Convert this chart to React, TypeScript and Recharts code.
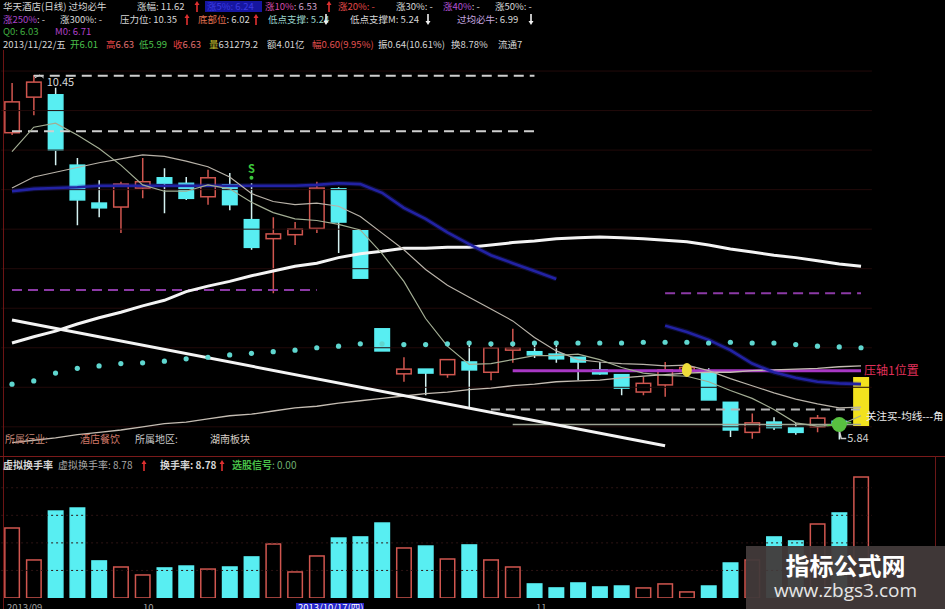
import React from "react";
import { Bar, ComposedChart, Line, ReferenceDot, ReferenceLine, XAxis, YAxis } from "recharts";

// 华天酒店 daily bars, 2013-09-23 .. 2013-11-22
const dates = [
  "2013/09/23", "2013/09/24", "2013/09/25", "2013/09/26", "2013/09/27", "2013/09/30",
  "2013/10/08", "2013/10/09", "2013/10/10", "2013/10/11", "2013/10/14", "2013/10/15",
  "2013/10/16", "2013/10/17", "2013/10/18", "2013/10/21", "2013/10/22", "2013/10/23",
  "2013/10/24", "2013/10/25", "2013/10/28", "2013/10/29", "2013/10/30", "2013/10/31",
  "2013/11/01", "2013/11/04", "2013/11/05", "2013/11/06", "2013/11/07", "2013/11/08",
  "2013/11/11", "2013/11/12", "2013/11/13", "2013/11/14", "2013/11/15", "2013/11/18",
  "2013/11/19", "2013/11/20", "2013/11/21", "2013/11/22",
];

const openPx = [9.72, 10.17, 10.2, 9.31, 8.83, 8.78, 9.02, 9.15, 9.08, 8.91, 9.06, 8.62, 8.38, 8.43, 8.51, 9.01, 8.48, 7.24, 6.67, 6.73, 6.66, 6.82, 6.69, 6.97, 6.95, 6.92, 6.88, 6.72, 6.66, 6.44, 6.53, 6.7, 6.69, 6.31, 5.93, 6.06, 5.99, 6.0, 6.07, 6.01];
const highPx = [10.35, 10.45, 10.29, 9.4, 9.12, 9.1, 9.4, 9.27, 9.16, 9.25, 9.21, 9.08, 8.65, 8.59, 9.1, 9.03, 8.48, 7.24, 6.88, 6.73, 6.85, 7.06, 7.06, 7.24, 7.07, 7.07, 6.88, 6.82, 6.66, 6.63, 6.82, 6.8, 6.74, 6.31, 6.17, 6.12, 6.05, 6.15, 6.1, 6.63];
const lowPx = [9.69, 9.94, 9.31, 8.55, 8.65, 8.45, 8.89, 8.7, 8.87, 8.81, 8.74, 8.24, 7.69, 8.3, 8.45, 8.2, 7.88, 6.96, 6.57, 6.4, 6.62, 6.24, 6.59, 6.81, 6.87, 6.81, 6.59, 6.66, 6.4, 6.4, 6.38, 6.66, 6.34, 5.87, 5.85, 5.96, 5.9, 5.93, 5.84, 5.99];
const closePx = [10.11, 10.36, 9.5, 8.87, 8.77, 9.07, 9.1, 9.08, 8.89, 9.15, 8.81, 8.27, 8.44, 8.5, 9.02, 8.59, 7.88, 6.96, 6.73, 6.68, 6.85, 6.72, 7.0, 7.0, 6.91, 6.86, 6.82, 6.67, 6.49, 6.55, 6.72, 6.75, 6.34, 5.96, 6.05, 5.99, 5.93, 6.11, 6.03, 6.63];

// moving averages and indicator lines
const ma5 = [9.48, 9.79, 9.84, 9.69, 9.52, 9.31, 9.06, 8.98, 8.98, 9.06, 9.01, 8.84, 8.71, 8.63, 8.61, 8.56, 8.49, 8.19, 7.84, 7.37, 7.02, 6.79, 6.8, 6.85, 6.9, 6.9, 6.92, 6.85, 6.75, 6.68, 6.65, 6.64, 6.57, 6.46, 6.36, 6.22, 6.05, 6.01, 6.02, 6.14];
const ma10 = [9.02, 9.16, 9.22, 9.28, 9.34, 9.39, 9.44, 9.42, 9.36, 9.29, 9.16, 8.95, 8.85, 8.81, 8.83, 8.79, 8.66, 8.45, 8.24, 7.99, 7.79, 7.64, 7.49, 7.34, 7.13, 6.96, 6.85, 6.82, 6.8, 6.79, 6.77, 6.78, 6.71, 6.61, 6.52, 6.43, 6.35, 6.29, 6.24, 6.25];
const maBlue = [8.98, 9.01, 9.02, 9.03, 9.05, 9.05, 9.05, 9.05, 9.05, 9.05, 9.05, 9.05, 9.05, 9.05, 9.06, 9.08, 9.07, 8.96, 8.77, 8.63, 8.46, 8.31, 8.17, 8.07, 7.97, 7.87, null, null, null, null, 7.28, 7.2, 7.1, 6.97, 6.8, 6.69, 6.62, 6.57, 6.55, 6.54];
const maWhite = [7.06, 7.14, 7.21, 7.3, 7.38, 7.45, 7.53, 7.6, 7.71, 7.78, 7.84, 7.91, 7.97, 8.03, 8.07, 8.14, 8.19, 8.22, 8.26, 8.26, 8.27, 8.27, 8.3, 8.33, 8.35, 8.38, 8.39, 8.4, 8.39, 8.38, 8.36, 8.34, 8.3, 8.25, 8.21, 8.17, 8.14, 8.1, 8.06, 8.03];
const maSlow = [5.8, 5.83, 5.86, 5.9, 5.93, 5.96, 6.0, 6.04, 6.06, 6.1, 6.14, 6.16, 6.2, 6.24, 6.26, 6.3, 6.33, 6.36, 6.39, 6.42, 6.44, 6.47, 6.49, 6.52, 6.54, 6.57, 6.58, 6.59, 6.62, 6.64, 6.66, 6.68, 6.69, 6.69, 6.71, 6.72, 6.73, 6.74, 6.76, 6.77];
const sarDots = [6.54, 6.58, 6.68, 6.74, 6.77, 6.8, 6.81, 6.83, 6.86, 6.88, 6.91, 6.93, 6.95, 6.97, 7.0, 7.02, 7.05, 7.05, 7.04, 7.04, 7.05, 7.06, 7.05, 7.05, 7.06, 7.06, 7.06, 7.06, 7.06, 7.07, 7.07, 7.07, 7.06, 7.07, 7.06, 7.06, 7.04, 7.02, 7.01, 7.0];

// 换手率 (%)
const turnover = [5.08, 2.76, 6.31, 6.53, 2.69, 2.25, 1.67, 2.18, 2.32, 2.1, 2.25, 2.98, 3.92, 1.89, 3.05, 4.35, 4.43, 5.44, 3.63, 3.77, 2.83, 3.85, 2.76, 2.25, 1.02, 0.73, 1.09, 0.8, 0.87, 0.73, 1.02, 0.44, 0.87, 2.54, 2.76, 4.43, 4.14, 5.37, 6.17, 8.78];

// levels and signals
const priceGrid = [6.0, 6.5, 7.0, 7.5, 8.0, 8.5, 9.0, 9.5, 10.0, 10.5];
const volGrid = [2, 4, 6, 8];
const resistLevel = 10.44;
const upperLevel = 9.74;
const purpleLeft = 7.73;
const purpleRight = 7.69;
const supportDash = 6.22;
const q0Level = 6.03;
const m0Level = 6.71;
const trendStart = 7.35;
const trendEnd = 5.76;
const swingHigh = 10.45;
const swingLow = 5.84;
const sellSignal = 9.15;
const watchSignal = 6.72;
const buySignal = 6.03;

const UP = "#d0564f";
const DOWN = "#58eef2";
const LIMIT = "#f2e21e";

const priceRows = dates.map((d, i) => ({
  d,
  o: openPx[i],
  h: highPx[i],
  l: lowPx[i],
  c: closePx[i],
  range: [lowPx[i], highPx[i]],
  limitUp: i > 0 && closePx[i] / closePx[i - 1] >= 1.099,
  ma5: ma5[i],
  ma10: ma10[i],
  maBlue: maBlue[i],
  maWhite: maWhite[i],
  maSlow: maSlow[i],
  sar: sarDots[i],
}));

const volRows = dates.map((d, i) => ({ d, v: turnover[i], up: closePx[i] >= openPx[i] }));

const seg = (a: number, b: number, y1: number, y2 = y1) => [
  { x: dates[a], y: y1 },
  { x: dates[b], y: y2 },
];

function Candle(props: any) {
  const { x, y, width, height, payload } = props;
  if (x == null || !payload) return null;
  const { o, h, l, c, limitUp } = payload;
  const top = Math.min(y, y + height);
  const full = Math.abs(height);
  const span = h - l;
  const toY = (v: number) => (span > 0 ? top + ((h - v) / span) * full : top);
  const cx = x + width / 2;
  const bodyTop = toY(Math.max(o, c));
  const bodyH = Math.max(toY(Math.min(o, c)) - bodyTop, 1.5);
  const up = c >= o;
  if (limitUp) {
    return <rect x={x} y={bodyTop} width={width} height={bodyH} fill={LIMIT} />;
  }
  const col = up ? UP : DOWN;
  const wick = up ? UP : "#d4f2f2";
  return (
    <g>
      <line x1={cx} x2={cx} y1={top} y2={bodyTop} stroke={wick} strokeWidth={1.5} />
      <line x1={cx} x2={cx} y1={bodyTop + bodyH} y2={top + full} stroke={wick} strokeWidth={1.5} />
      <rect x={x + 0.75} y={bodyTop} width={width - 1.5} height={bodyH} fill={up ? "#000" : col} stroke={col} strokeWidth={1.5} />
    </g>
  );
}

function VolBar(props: any) {
  const { x, y, width, height, payload } = props;
  if (x == null || !payload) return null;
  const up = payload.up;
  return (
    <rect x={x + 0.75} y={y} width={width - 1.5} height={height} fill={up ? "#000" : DOWN} stroke={up ? UP : DOWN} strokeWidth={1.5} />
  );
}

function Txt({ x, y, color = "#d6d6d6", size = 9.5, bold = false, children }: any) {
  return (
    <span style={{ position: "absolute", left: x, top: y, color, fontSize: size, fontWeight: bold ? 700 : 400, lineHeight: 1.15, whiteSpace: "nowrap" }}>
      {children}
    </span>
  );
}

function Arrow({ x, y, up = true, color = "#e03030" }: any) {
  return (
    <svg style={{ position: "absolute", left: x, top: y }} width={6} height={11}>
      {up ? <path d="M3,0 L0.5,4 L2.2,4 L2.2,11 L3.8,11 L3.8,4 L5.5,4 Z" fill={color} /> : <path d="M3,11 L0.5,7 L2.2,7 L2.2,0 L3.8,0 L3.8,7 L5.5,7 Z" fill={color} />}
    </svg>
  );
}

const margin = { left: 1.1, right: 73.1 };

export default function App() {
  return (
    <div
      style={{
        position: "absolute",
        left: 0,
        top: 0,
        width: 945,
        height: 609,
        background: "#000",
        overflow: "hidden",
        fontFamily: "'Noto Sans CJK SC', 'Noto Sans', sans-serif",
      }}
    >
      <div style={{ position: "absolute", left: 0, top: 0 }}>
        <ComposedChart width={945} height={455} data={priceRows} margin={{ ...margin, top: 47.33, bottom: 4.46 }}>
          <XAxis dataKey="d" hide />
          <YAxis hide domain={[5.7, 10.8]} allowDataOverflow />
          {priceGrid.map((g) => (
            <ReferenceLine key={g} y={g} stroke="#220a0a" strokeWidth={1} />
          ))}
          <ReferenceLine segment={seg(1, 24, resistLevel)} stroke="#cfcfcf" strokeWidth={2} strokeDasharray="10 6" />
          <ReferenceLine segment={seg(0, 24, upperLevel)} stroke="#cfcfcf" strokeWidth={2} strokeDasharray="10 6" />
          <ReferenceLine segment={seg(0, 14, purpleLeft)} stroke="#8c3aa6" strokeWidth={2} strokeDasharray="10 6" />
          <ReferenceLine segment={seg(30, 39, purpleRight)} stroke="#8c3aa6" strokeWidth={2} strokeDasharray="10 6" />
          <ReferenceLine segment={seg(22, 39, supportDash)} stroke="#b4b4b4" strokeWidth={2} strokeDasharray="9 6" />
          <ReferenceLine segment={seg(23, 39, q0Level)} stroke="#9ea494" strokeWidth={1.5} />
          <ReferenceLine segment={seg(23, 39, m0Level)} stroke="#a838c4" strokeWidth={3} />
          <Line dataKey="sar" stroke="none" dot={{ r: 2.6, fill: "#5fd6cf", stroke: "none" }} activeDot={false} isAnimationActive={false} />
          <Bar dataKey="range" barSize={16} shape={(p: any) => <Candle {...p} />} isAnimationActive={false} />
          <Line dataKey="maSlow" type="linear" stroke="#c4bcb2" strokeWidth={1.3} dot={false} activeDot={false} isAnimationActive={false} />
          <Line dataKey="maWhite" type="linear" stroke="#f4f4f4" strokeWidth={3} dot={false} activeDot={false} isAnimationActive={false} />
          <Line dataKey="maBlue" type="linear" stroke="#3030c8" strokeOpacity={0.25} strokeWidth={5} dot={false} activeDot={false} isAnimationActive={false} />
          <Line dataKey="maBlue" type="linear" stroke="#2222a4" strokeWidth={2.6} dot={false} activeDot={false} isAnimationActive={false} />
          <Line dataKey="ma10" type="linear" stroke="#b8b2a8" strokeWidth={1.2} dot={false} activeDot={false} isAnimationActive={false} />
          <Line dataKey="ma5" type="linear" stroke="#a2ad93" strokeWidth={1.2} dot={false} activeDot={false} isAnimationActive={false} />
          <ReferenceLine segment={seg(0, 30, trendStart, trendEnd)} stroke="#f4f4f4" strokeWidth={3} />
          <ReferenceDot
            x={dates[1]}
            y={swingHigh}
            r={1}
            shape={(p: any) => (
              <g>
                <path d={`M${p.cx + 1},${p.cy + 3} L${p.cx + 6},${p.cy} L${p.cx + 10},${p.cy + 3}`} stroke="#cfcfcf" fill="none" />
                <text x={p.cx + 13} y={p.cy + 11} fill="#d8d8d8" fontSize={11}>
                  {swingHigh.toFixed(2)}
                </text>
              </g>
            )}
          />
          <ReferenceDot
            x={dates[38]}
            y={swingLow}
            r={1}
            shape={(p: any) => (
              <g>
                <path d={`M${p.cx},${p.cy - 9} L${p.cx + 2},${p.cy - 1} L${p.cx + 7},${p.cy - 1}`} stroke="#cfcfcf" fill="none" strokeWidth={1.5} />
                <text x={p.cx + 8} y={p.cy + 3} fill="#d0d0d0" fontSize={11}>
                  {swingLow.toFixed(2)}
                </text>
              </g>
            )}
          />
          <ReferenceDot
            x={dates[11]}
            y={sellSignal}
            r={1}
            shape={(p: any) => (
              <g>
                <text x={p.cx} y={p.cy - 5} textAnchor="middle" fill="#3cc83c" fontSize={11} fontWeight={700}>
                  S
                </text>
                <circle cx={p.cx} cy={p.cy} r={2} fill="#3cc83c" />
              </g>
            )}
          />
          <ReferenceDot
            x={dates[31]}
            y={watchSignal}
            r={1}
            shape={(p: any) => <ellipse cx={p.cx} cy={p.cy} rx={5} ry={7} fill="#eedc3c" />}
          />
          <ReferenceDot
            x={dates[38]}
            y={buySignal}
            r={1}
            shape={(p: any) => (
              <g>
                <line x1={p.cx - 12} x2={p.cx + 12} y1={p.cy + 1} y2={p.cy - 2} stroke="#58c040" strokeWidth={1.5} />
                <circle cx={p.cx} cy={p.cy} r={7.5} fill="#58c040" />
              </g>
            )}
          />
        </ComposedChart>
      </div>

      <div style={{ position: "absolute", left: 0, top: 455 }}>
        <ComposedChart width={945} height={154} data={volRows} margin={{ ...margin, top: 5.2, bottom: 11 }}>
          <XAxis dataKey="d" hide />
          <YAxis hide domain={[0, 10]} allowDataOverflow />
          {volGrid.map((g) => (
            <ReferenceLine key={g} y={g} stroke="#2e1414" strokeDasharray="2 3" />
          ))}
          <Bar dataKey="v" barSize={16} shape={(p: any) => <VolBar {...p} />} isAnimationActive={false} />
        </ComposedChart>
      </div>

      {/* panel frame */}
      <div style={{ position: "absolute", left: 3, top: 50, width: 1, height: 559, background: "#6b1414" }} />
      <div style={{ position: "absolute", left: 0, top: 456, width: 945, height: 1, background: "#7a1a1a" }} />
      <div style={{ position: "absolute", left: 935, top: 456, width: 1, height: 92, background: "#6b1818" }} />

      {/* header line 1 */}
      <Txt x={3} y={1}>华天酒店(日线) 过均必牛</Txt>
      <Txt x={137} y={1}>涨幅: 11.62</Txt>
      <Arrow x={194} y={1} />
      <div style={{ position: "absolute", left: 205, top: 1, width: 57, height: 11, background: "#1616a0" }} />
      <Txt x={207} y={1} color="#3a3ae0">涨5%: 6.24</Txt>
      <Txt x={265} y={1} color="#d0a0c8">
        <span style={{ color: "#d24aa8" }}>涨10%</span>: 6.53
      </Txt>
      <Arrow x={326} y={1} />
      <Txt x={338} y={1} color="#e04848">涨20%: -</Txt>
      <Txt x={396} y={1}>涨30%: -</Txt>
      <Txt x={443} y={1}>
        <span style={{ color: "#b050d0" }}>涨40%</span>: -
      </Txt>
      <Txt x={495} y={1}>涨50%: -</Txt>

      {/* header line 2 */}
      <Txt x={3} y={13.5}>
        <span style={{ color: "#a844c8" }}>涨250%</span>: -
      </Txt>
      <Txt x={60} y={13.5}>涨300%: -</Txt>
      <Txt x={120} y={13.5}>压力位: 10.35</Txt>
      <Arrow x={184} y={14} />
      <Txt x={198} y={13.5}>
        <span style={{ color: "#e07050" }}>底部位</span>: 6.02
      </Txt>
      <Arrow x={253} y={14} />
      <Txt x={268} y={13.5} color="#9ad4cc">低点支撑: 5.24</Txt>
      <Arrow x={323} y={14} up={false} color="#f0f0f0" />
      <Txt x={350} y={13.5}>低点支撑M: 5.24</Txt>
      <Arrow x={425} y={14} up={false} color="#f0f0f0" />
      <Txt x={457} y={13.5}>
        <span style={{ color: "#c8a8e0" }}>过均必牛</span>: 6.99
      </Txt>
      <Arrow x={528} y={14} up={false} color="#f0f0f0" />

      {/* header line 3 */}
      <Txt x={3} y={26} color="#40b040">Q0: 6.03</Txt>
      <Txt x={55} y={26} color="#b040c8">M0: 6.71</Txt>

      {/* header line 4 */}
      <Txt x={3} y={38.5}>2013/11/22/五</Txt>
      <Txt x={70} y={38.5} color="#4cc04c">开6.01</Txt>
      <Txt x={106} y={38.5} color="#e07070">
        <span style={{ color: "#e04040" }}>高</span>6.63
      </Txt>
      <Txt x={139} y={38.5} color="#4cc04c">低5.99</Txt>
      <Txt x={173} y={38.5} color="#e07070">
        <span style={{ color: "#e04040" }}>收</span>6.63
      </Txt>
      <Txt x={209} y={38.5}>
        <span style={{ color: "#c8c030" }}>量</span>631279.2
      </Txt>
      <Txt x={267} y={38.5}>额4.01亿</Txt>
      <Txt x={312} y={38.5} color="#e05050">幅0.60(9.95%)</Txt>
      <Txt x={378} y={38.5}>振0.64(10.61%)</Txt>
      <Txt x={451} y={38.5}>换8.78%</Txt>
      <Txt x={498} y={38.5}>流通7</Txt>

      {/* price panel captions */}
      <Txt x={5} y={433} size={10} color="#c88878">所属行业:</Txt>
      <Txt x={80} y={433} size={10} color="#d07868">酒店餐饮</Txt>
      <Txt x={135} y={433} size={10} color="#c8c8c8">所属地区:</Txt>
      <Txt x={210} y={433} size={10} color="#d8d0c8">湖南板块</Txt>
      <Txt x={864} y={363} color="#e0305a" size={12}>压轴1位置</Txt>
      <Txt x={866} y={410} color="#eeeeee" size={10.5}>关注买-均线---角</Txt>

      {/* volume panel header */}
      <Txt x={3} y={459} size={10} bold>虚拟换手率</Txt>
      <Txt x={58} y={459} size={10} color="#a8a8a8">虚拟换手率: 8.78</Txt>
      <Arrow x={141} y={460} />
      <Txt x={160} y={459} size={10} bold>换手率: 8.78</Txt>
      <Arrow x={219} y={460} />
      <Txt x={232} y={459} size={10} color="#70b070">
        <span style={{ color: "#48c048", fontWeight: 700 }}>选股信号</span>: 0.00
      </Txt>

      {/* date axis, mostly cut off at the bottom edge */}
      <Txt x={7} y={602} color="#a0a0a0">2013/09</Txt>
      <Txt x={143} y={602} color="#a0a0a0">10</Txt>
      <div style={{ position: "absolute", left: 296, top: 603, width: 68, height: 12, background: "#2424c8" }} />
      <Txt x={298} y={602} color="#ffffff">2013/10/17(四)</Txt>
      <Txt x={536} y={602} color="#a0a0a0">11</Txt>

      {/* site badge */}
      <div
        style={{
          position: "absolute",
          left: 746,
          top: 546,
          width: 199,
          height: 63,
          background: "rgba(66,58,58,0.95)",
          textAlign: "center",
          color: "#ffffff",
        }}
      >
        <div style={{ fontSize: 24, fontWeight: 700, lineHeight: "26px", marginTop: 6 }}>指标公式网</div>
        <div style={{ fontSize: 19, lineHeight: "24px", color: "#e6e6e6", fontFamily: "'Open Sans', sans-serif" }}>www.zbgs3.com</div>
      </div>
    </div>
  );
}
